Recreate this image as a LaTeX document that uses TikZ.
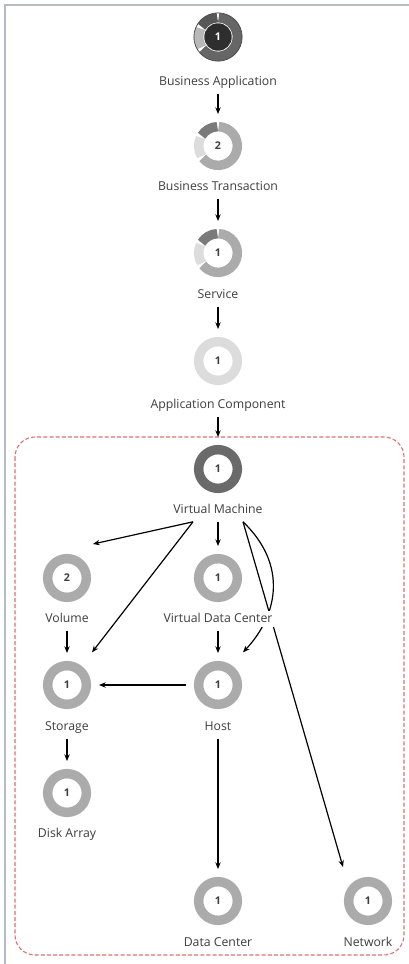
\documentclass[tikz,border=0pt]{standalone}
\usepackage{fontspec}
\setmainfont{Open Sans}
\usepackage{xcolor}
\usetikzlibrary{arrows.meta,backgrounds}
\definecolor{ringmid}{HTML}{ABABAB}
\definecolor{ringdark}{HTML}{7A7A7A}
\definecolor{ringlight}{HTML}{DCDCDC}
\definecolor{vmgray}{HTML}{6A6A6A}
\definecolor{txtgray}{HTML}{3E3E3E}
\definecolor{framegray}{HTML}{B4BCC4}
\definecolor{boxred}{HTML}{D9736F}
% three segments of a ring round node #1: dark, light, mid
\newcommand{\segring}[4]{%
  \draw[#2,line width=7.1pt] ([shift={(92:14.5pt)}]#1.center) arc[start angle=92,end angle=148,radius=14.5pt];
  \draw[#3,line width=7.1pt] ([shift={(154:14.5pt)}]#1.center) arc[start angle=154,end angle=212,radius=14.5pt];
  \draw[#4,line width=7.1pt] ([shift={(218:14.5pt)}]#1.center) arc[start angle=218,end angle=448,radius=14.5pt];}

\begin{document}
\begin{tikzpicture}[x=0.75pt,y=-0.75pt,>={Stealth[length=5pt,width=4pt]},
  ring/.style={circle,minimum size=29pt,inner sep=0pt,outer sep=9.5pt,font=\fontsize{8}{9}\selectfont\bfseries,text=txtgray},
  full/.style={ring,draw=#1,line width=7.1pt},
  lbl/.style={fill=white,inner sep=1.5pt,outer sep=3pt,text=txtgray,font=\fontsize{9.2}{10}\selectfont,text height=6.8pt,text depth=1.9pt},
  edge/.style={->,line width=0.9pt}]
\useasboundingbox (0,0) rectangle (409,964);
\draw[framegray,line width=1.3pt] (5,964) -- (5,5) -- (409,5);
% upper chain
\fill[black!82] (218,37) circle[radius=10.3pt];
\node[ring,text=white] (ba) at (218,37) {1};
\node[lbl] (ba-l) at (218,82) {Business Application};
\node[ring] (bt) at (218,146) {2};
\node[lbl] (bt-l) at (218,187) {Business Transaction};
\node[ring] (sv) at (218,253) {1};
\node[lbl] (sv-l) at (218,295) {Service};
\node[full=ringlight] (ac) at (218,361) {1};
\node[lbl] (ac-l) at (218,405) {Application Component};
\segring{ba}{black!66}{black!28}{black!60}
\segring{bt}{ringdark}{ringlight}{ringmid}
\segring{sv}{ringdark}{ringlight}{ringmid}
\draw[black!70,line width=0.6pt] (ba) circle[radius=18.1pt];
% infrastructure
\node[full=vmgray] (vm) at (218,469) {1};
\node[lbl] (vm-l) at (218,510) {Virtual Machine};
\node[full=ringmid] (vo) at (67,578) {2};
\node[lbl] (vo-l) at (67,619) {Volume};
\node[full=ringmid] (vd) at (218,578) {1};
\node[lbl] (vd-l) at (218,619) {Virtual Data Center};
\node[full=ringmid] (st) at (67,685) {1};
\node[lbl] (st-l) at (67,727) {Storage};
\node[full=ringmid] (ho) at (218,685) {1};
\node[lbl] (ho-l) at (218,727) {Host};
\node[full=ringmid] (da) at (67,793) {1};
\node[lbl] (da-l) at (67,834) {Disk Array};
\node[full=ringmid] (dc) at (218,901) {1};
\node[lbl] (dc-l) at (218,943) {Data Center};
\node[full=ringmid] (nw) at (368,901) {1};
\node[lbl] (nw-l) at (368,943) {Network};
\begin{pgfonlayer}{background}
\draw[boxred,line width=0.8pt,dash pattern=on 3pt off 1.6pt,rounded corners=15pt] (15,437) rectangle (404,955);
\draw[edge] (ba-l) -- (bt);
\draw[edge] (bt-l) -- (sv);
\draw[edge] (sv-l) -- (ac);
\draw[edge] (ac-l) -- (vm);
\draw[edge] (vm-l) -- (vd);
\draw[edge] ([xshift=-18.75pt]vm-l.south) -- ([xshift=19.5pt,yshift=25.5pt]vo.center);
\draw[edge] ([xshift=-18.75pt]vm-l.south) -- ([xshift=18.75pt,yshift=24.5pt]st.center);
\draw[edge] ([xshift=18.75pt]vm-l.south) .. controls (288,565) and (278,615) .. ([xshift=18.75pt,yshift=24.5pt]ho.center);
\draw[edge] ([xshift=18.75pt]vm-l.south) -- ([xshift=-18.75pt,yshift=25.5pt]nw.center);
\draw[edge] (vo-l) -- (st);
\draw[edge] (vd-l) -- (ho);
\draw[edge] (ho) -- (st);
\draw[edge] (st-l) -- (da);
\draw[edge] (ho-l) -- (dc);
\end{pgfonlayer}
\end{tikzpicture}
\end{document}
